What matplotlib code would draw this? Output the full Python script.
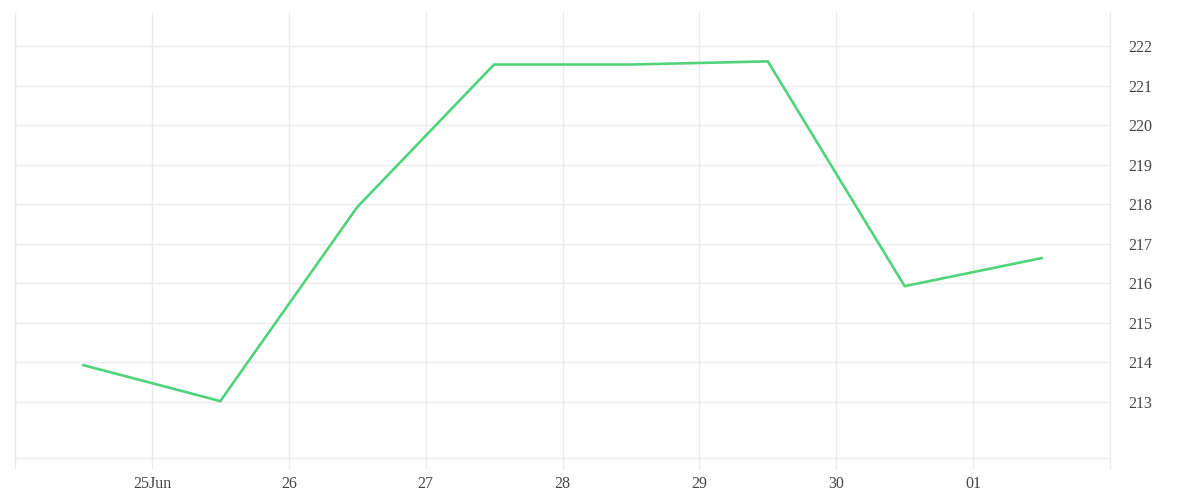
import datetime as dt

import matplotlib
matplotlib.use("Agg")
import matplotlib.dates as mdates
import matplotlib.pyplot as plt
import matplotlib.ticker as mticker

# data: one value per day, measured at noon
dagen = [dt.datetime(2024, 6, 24, 12) + dt.timedelta(days=i) for i in range(8)]
waarden = [213.93, 213.02, 217.93, 221.54, 221.54, 221.62, 215.93, 216.64]

y_ticks = list(range(213, 223))

LIJN_KLEUR = "#4fd37b"
GRID_KLEUR = "#ebebeb"
TEKST_KLEUR = "#444444"

plt.rcParams["font.family"] = ["Liberation Serif", "DejaVu Serif"]

fig = plt.figure(figsize=(12, 5), dpi=100)
ax = fig.add_axes([15 / 1200, 1 - 458 / 500, 1095 / 1200, 446 / 500])

ax.plot(dagen, waarden, color=LIJN_KLEUR, linewidth=1.9, solid_joinstyle="miter", zorder=3)

ax.set_xlim(dt.datetime(2024, 6, 24), dt.datetime(2024, 7, 2))
ax.set_ylim(211.58, 222.87)

# x axis: every day a grid line, label only 25 Jun .. 01
ax.xaxis.set_major_locator(mdates.DayLocator())


def dag_label(x, pos):
    d = mdates.num2date(x)
    if d.day == 25 and d.month == 6:
        return "25Jun"
    if (d.month == 6 and d.day == 24) or (d.month == 7 and d.day == 2):
        return ""
    return d.strftime("%d")


ax.xaxis.set_major_formatter(mticker.FuncFormatter(dag_label))

ax.yaxis.tick_right()
ax.set_yticks(y_ticks)
ax.yaxis.set_major_formatter(mticker.FormatStrFormatter("%d"))

ax.grid(True, color=GRID_KLEUR, linewidth=1)
ax.tick_params(axis="x", length=8, width=1, color=GRID_KLEUR, labelsize=11.5,
               labelcolor=TEKST_KLEUR, pad=5)
ax.tick_params(axis="y", length=0, labelsize=11.5, labelcolor=TEKST_KLEUR, pad=13)

for kant in ["top"]:
    ax.spines[kant].set_visible(False)
for kant in ["left", "right", "bottom"]:
    ax.spines[kant].set_color(GRID_KLEUR)
    ax.spines[kant].set_linewidth(1)

fig.savefig("out.png", dpi=100, facecolor="white")
